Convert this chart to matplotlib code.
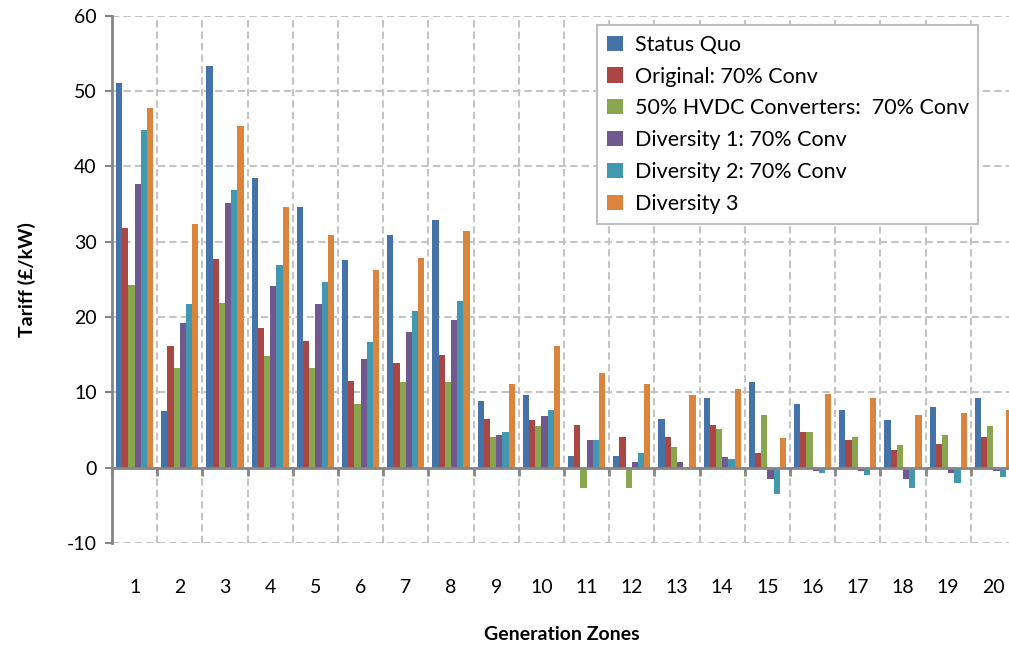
import numpy as np
import matplotlib.pyplot as plt

# tariff per generation zone (£/kW)
zones = [str(i) for i in range(1, 21)]
status_quo = [51.1, 7.5, 53.3, 38.4, 34.6, 27.6, 30.9, 32.9, 8.8, 9.6,
              1.6, 1.6, 6.5, 9.3, 11.4, 8.4, 7.7, 6.3, 8.0, 9.3]
original = [31.8, 16.2, 27.7, 18.6, 16.8, 11.5, 13.9, 15.0, 6.5, 6.3,
            5.7, 4.1, 4.1, 5.7, 1.9, 4.7, 3.7, 2.4, 3.1, 4.1]
hvdc50 = [24.3, 13.2, 21.9, 14.8, 13.2, 8.5, 11.4, 11.4, 4.1, 5.5,
          -2.7, -2.7, 2.7, 5.2, 7.0, 4.7, 4.1, 3.0, 4.4, 5.5]
diversity1 = [37.6, 19.2, 35.1, 24.1, 21.7, 14.4, 18.0, 19.6, 4.4, 6.8,
              3.7, 0.8, 0.8, 1.4, -1.5, -0.4, -0.4, -1.5, -0.7, -0.4]
diversity2 = [44.8, 21.7, 36.9, 26.9, 24.7, 16.7, 20.8, 22.1, 4.7, 7.7,
              3.7, 1.9, 0.0, 1.1, -3.5, -0.7, -1.0, -2.7, -2.0, -1.2]
diversity3 = [47.7, 32.3, 45.4, 34.6, 30.9, 26.2, 27.8, 31.4, 11.1, 16.2,
              12.6, 11.1, 9.6, 10.4, 4.0, 9.8, 9.3, 7.0, 7.3, 7.7]

series = [status_quo, original, hvdc50, diversity1, diversity2, diversity3]
names = ["Status Quo", "Original: 70% Conv", "50% HVDC Converters:  70% Conv",
         "Diversity 1: 70% Conv", "Diversity 2: 70% Conv", "Diversity 3"]
colors = ["#4572A7", "#AA4643", "#89A54E", "#71588F", "#4198AF", "#DB843D"]

plt.rcParams['font.family'] = ['Lato', 'DejaVu Sans']
plt.rcParams['axes.unicode_minus'] = False
axis_grey = "#868686"
grid_grey = "#c4c4c4"

fig = plt.figure(figsize=(10.09, 6.49), dpi=100)
ax = fig.add_axes([112/1009, 1 - 543/649, (1016 - 112)/1009, (543 - 15.7)/649])

x = np.arange(1, len(zones) + 1)
w = 0.82 / len(series)
for i, (vals, name, c) in enumerate(zip(series, names, colors)):
    ax.bar(x + (i - 2.5) * w, vals, width=w, color=c, label=name, zorder=3)

ax.set_xlim(0.5, len(zones) + 0.5)
ax.set_ylim(-10, 60)
ax.set_yticks(np.arange(-10, 61, 10))

# category boundaries as minor ticks -> vertical dashed grid
ax.set_xticks(np.arange(0.5, len(zones) + 1, 1), minor=True)
ax.set_xticks(x)
ax.set_xticklabels(zones)
ax.tick_params(axis='x', which='major', length=0, pad=80, labelsize=14)
ax.tick_params(axis='x', which='minor', length=6, width=2, color=axis_grey, direction='out')
ax.tick_params(axis='y', labelsize=14, length=5, width=1.5, color=axis_grey, pad=6)

ax.grid(True, axis='y', which='major', color=grid_grey, linestyle=(0, (3.5, 2)), linewidth=1.5, zorder=0)
ax.grid(True, axis='x', which='minor', color=grid_grey, linestyle=(0, (3.5, 2)), linewidth=1.5, zorder=0)

ax.spines['bottom'].set_position(('data', 0))
ax.spines['bottom'].set_color(axis_grey)
ax.spines['bottom'].set_linewidth(2)
ax.spines['bottom'].set_zorder(4)
ax.spines['left'].set_color(axis_grey)
ax.spines['left'].set_linewidth(2)
ax.spines['top'].set_visible(False)
ax.spines['right'].set_visible(False)

ax.set_ylabel("Tariff (£/kW)", fontsize=14, fontweight='bold', labelpad=22)
fig.text(562/1009, 1 - 635/649, "Generation Zones",
         fontsize=14, fontweight='bold', ha='center', va='center')

leg = ax.legend(loc='upper left', bbox_to_anchor=(597/1009, 1 - 25/649),
                bbox_transform=fig.transFigure, borderaxespad=0,
                fontsize=15.5, frameon=True, fancybox=False, framealpha=1,
                edgecolor="#bfbfbf", handlelength=0.75, handleheight=0.7,
                handletextpad=0.55, labelspacing=0.55, borderpad=0.45)
leg.get_frame().set_linewidth(1.5)
leg.set_zorder(10)

fig.savefig("out.png", dpi=100)
